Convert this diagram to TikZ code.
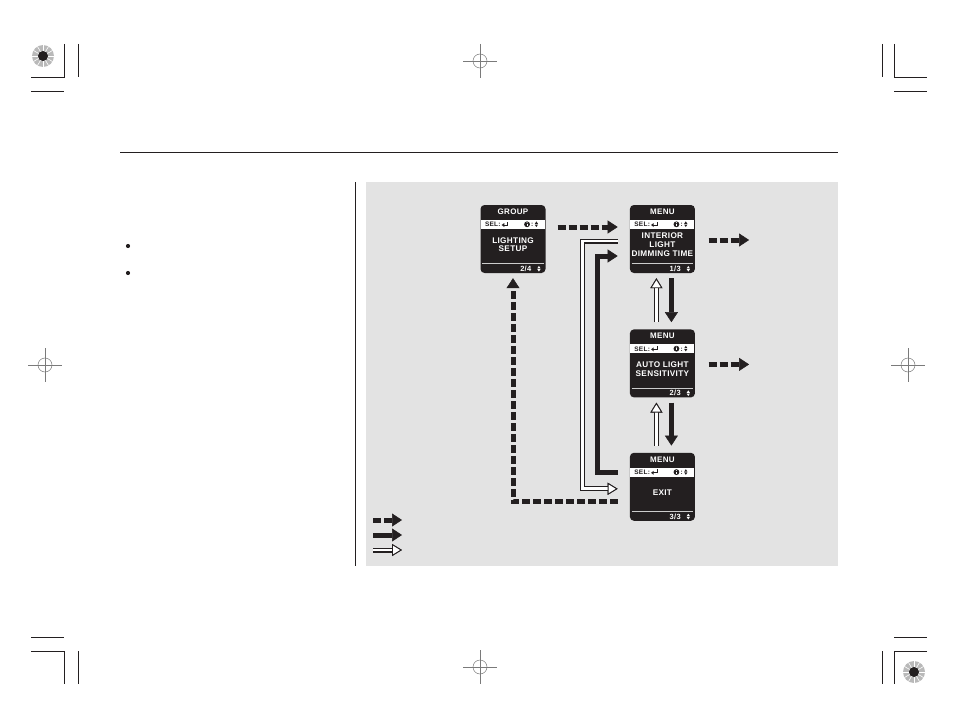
\documentclass[tikz,border=0pt]{standalone}
\usepackage{fontspec}
\setsansfont{Liberation Sans}
\newfontfamily\pantfuente[LetterSpace=4]{Liberation Sans}
\usepackage{xcolor}
\usepackage{tikz}
\usetikzlibrary{positioning,arrows.meta}
\definecolor{tinta}{HTML}{231F20}
\definecolor{fondo}{HTML}{E3E3E3}
\definecolor{marcagris}{HTML}{7A7A7A}

\newcommand{\retorno}{\tikz[baseline=0pt]{\fill (0,1.6pt) -- (2.6pt,3.6pt) -- (2.6pt,-0.4pt) -- cycle;
  \fill (2.3pt,1.1pt) rectangle (6.6pt,2.1pt); \fill (5.6pt,1.1pt) rectangle (6.6pt,5pt);}}
\newcommand{\icoinfo}{\tikz[baseline=0pt]{\fill (0,2.4pt) circle (2.9pt);
  \fill[white] (-0.45pt,0.7pt) rectangle (0.45pt,3pt); \fill[white] (0,4pt) circle (0.55pt);}}
\newcommand{\icoflechas}{\tikz[baseline=0pt]{\fill (0,2.9pt) -- (3.2pt,2.9pt) -- (1.6pt,5.3pt) -- cycle;
  \fill (0,2.1pt) -- (3.2pt,2.1pt) -- (1.6pt,-0.3pt) -- cycle;}}
\newcommand{\pantalla}[5]{%
  \node[pant, #2] (#1) {};
  \node[pant-cab] (#1-cab) at ([yshift=-7pt]#1.north) {#3};
  \node[pant-sel] (#1-sel) at ([yshift=-19.5pt]#1.north) {};
  \node[pant-txt, anchor=west] (#1-sl) at ([xshift=4pt]#1-sel.west) {SEL:\,\retorno};
  \node[pant-txt, anchor=east] (#1-in) at ([xshift=-7pt]#1-sel.east) {\icoinfo\hspace{1.2pt}:\hspace{1.5pt}\icoflechas};
  \node[pant-cuerpo] (#1-txt) at ([yshift=-40pt]#1.north) {#4};
  \draw[white!80!black, line width=0.5pt] ([xshift=2pt,yshift=9.5pt]#1.south west) -- ([xshift=-2pt,yshift=9.5pt]#1.south east);
  \node[pant-pie] (#1-pag) at ([xshift=-5pt,yshift=4.5pt]#1.south east) {#5\hspace{6pt}\icoflechas};
}

\begin{document}
\begin{tikzpicture}[x=1pt, y=-1pt,
  pant/.style={rectangle, rounded corners=4pt, fill=tinta, minimum width=65pt, minimum height=68pt, inner sep=0pt},
  pant-cab/.style={text=white, font=\pantfuente\bfseries\fontsize{8}{8}\selectfont, inner sep=0pt},
  pant-sel/.style={fill=white, minimum width=64pt, minimum height=9pt, inner sep=0pt},
  pant-txt/.style={text=tinta, font=\pantfuente\bfseries\fontsize{6.5}{7}\selectfont, inner sep=0pt},
  pant-cuerpo/.style={align=center, text=white, font=\pantfuente\bfseries\fontsize{8.2}{8.7}\selectfont, inner sep=0pt},
  pant-pie/.style={anchor=east, text=white, font=\pantfuente\bfseries\fontsize{7.5}{8}\selectfont, inner sep=0pt},
  salto/.style={draw=tinta, line width=5pt, dash pattern=on 8pt off 3pt, line join=miter, -{Triangle[length=10pt, width=13pt, line width=0.5pt]}},
  flecha/.style={draw=tinta, line width=5pt, line join=miter, -{Triangle[length=10pt, width=13pt, line width=0.5pt]}},
  hueca/.style={draw=white, line width=2.8pt, line join=miter, preaction={draw=tinta, line width=5pt},
    -{Triangle[open, fill=white, color=tinta, line width=0.9pt, length=10pt, width=12pt]}},
  marca/.style={draw=tinta, line width=0.8pt},
  registro/.style={draw=marcagris, line width=0.5pt}]
  \useasboundingbox (0,0) rectangle (954,709);
  \fill[fondo] (366,182) rectangle (838,566);
  \draw[tinta, line width=0.9pt] (120,152) -- (838,152);
  \draw[tinta, line width=0.8pt] (355,182) -- (355,566);
  \fill[tinta] (128,246) circle (2.1);
  \fill[tinta] (128,273) circle (2.1);

  \draw[marca] (64,44) -- (64,77) -- (31,77);
  \draw[marca] (78,44) -- (78,77);
  \draw[marca] (31,91) -- (64,91);
  \draw[marca] (882,44) -- (882,77);
  \draw[marca] (894,44) -- (894,77) -- (927,77);
  \draw[marca] (894,91) -- (927,91);
  \draw[marca] (31,637) -- (64,637);
  \draw[marca] (31,651) -- (64,651) -- (64,684);
  \draw[marca] (78,651) -- (78,684);
  \draw[marca] (894,637) -- (927,637);
  \draw[marca] (927,651) -- (894,651) -- (894,684);
  \draw[marca] (882,651) -- (882,684);
  \foreach \cx/\cy in {480/61, 45/365, 908/365, 480/667} {
    \draw[registro] (\cx,\cy) circle (7);
    \draw[registro] (\cx-17,\cy) -- (\cx+17,\cy) (\cx,\cy-17) -- (\cx,\cy+17);
  }
  \foreach \cx/\cy in {43/56, 914/672} {
    \fill[gray!55] (\cx,\cy) circle (11);
    \foreach \a in {0,30,...,330}
      \draw[white, line width=0.6pt] (\cx,\cy) ++(\a:5) -- ++(\a:6);
    \fill[tinta] (\cx,\cy) circle (5);
  }

  \pantalla{grp}{at={(513,239)}}{GROUP}{LIGHTING\\SETUP}{2/4}
  \pantalla{m1}{right=84pt of grp}{MENU}{INTERIOR\\LIGHT\\DIMMING TIME}{1/3}
  \pantalla{m2}{below=56pt of m1}{MENU}{AUTO LIGHT\\SENSITIVITY}{2/3}
  \pantalla{mx}{below=55pt of m2}{MENU}{EXIT}{3/3}

  \coordinate (m1-sig) at ([xshift=54pt,yshift=-1pt]m1.east);
  \coordinate (m2-sig) at ([xshift=54pt,yshift=-1pt]m2.east);
  \draw[salto, shorten <=12pt, shorten >=12pt] ([yshift=12pt]grp.east) -- ([yshift=12pt]m1.west);
  \draw[salto, shorten <=13.5pt] ([yshift=-1pt]m1.east) -- (m1-sig);
  \draw[salto, shorten <=13.5pt] ([yshift=-1pt]m2.east) -- (m2-sig);
  \foreach \a/\b in {m1/m2, m2/mx} {
    \draw[flecha, shorten <=5pt, shorten >=7pt] ([xshift=9pt]\a.south) -- ([xshift=9pt]\b.north);
    \draw[hueca, shorten <=7pt, shorten >=5pt] ([xshift=-6pt]\b.north) -- ([xshift=-6pt]\a.south);
  }
  \draw[hueca, shorten <=12pt, shorten >=12pt] ([yshift=-2pt]m1.west) -- ++(-47.5,0) |- ([yshift=-2pt]mx.west);
  \draw[flecha, shorten <=12pt, shorten >=12pt] ([yshift=14pt]mx.west) -- ++(-32.5,0) |- ([yshift=-17pt]m1.west);
  \draw[salto, shorten <=12pt, shorten >=5pt] ([yshift=-15pt]mx.west) -| (grp.south);

  \coordinate (ley1) at (373,520); \coordinate (ley1f) at (402,520);
  \coordinate (ley2) at (373,535); \coordinate (ley2f) at (402,535);
  \coordinate (ley3) at (373,550); \coordinate (ley3f) at (402,550);
  \draw[salto] (ley1) -- (ley1f);
  \draw[flecha] (ley2) -- (ley2f);
  \draw[hueca] (ley3) -- (ley3f);
\end{tikzpicture}
\end{document}
